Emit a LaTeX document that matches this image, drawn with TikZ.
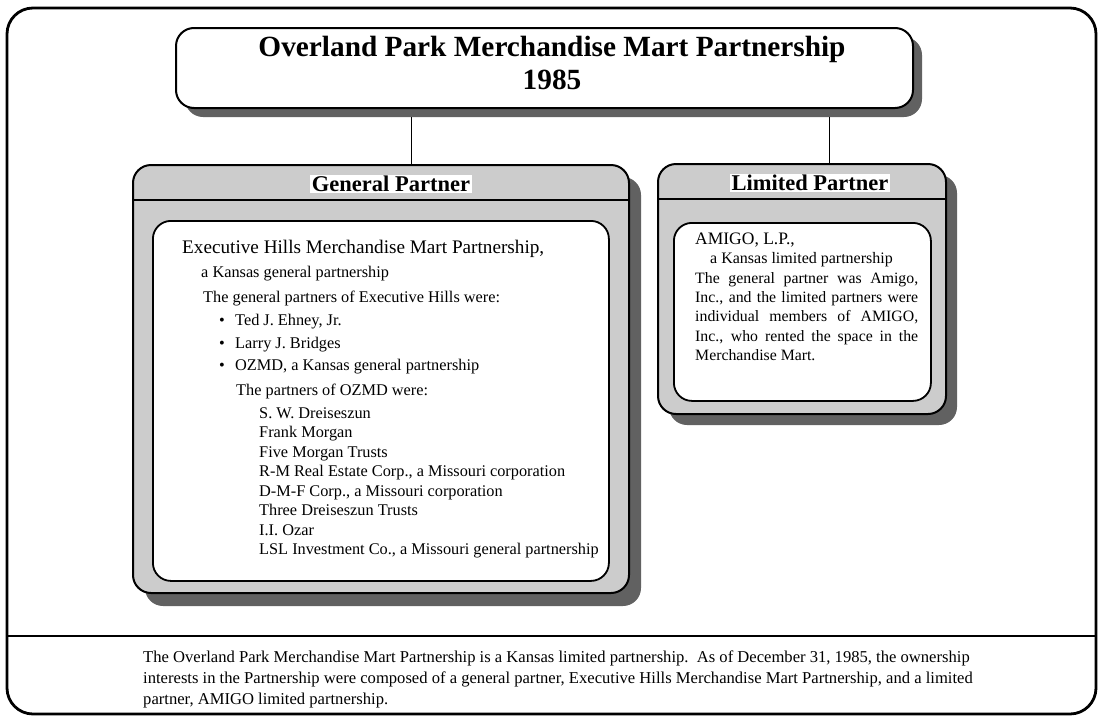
\documentclass[tikz,border=0pt]{standalone}
\usepackage{fontspec}
\setmainfont{Liberation Serif}
\usetikzlibrary{positioning}
\definecolor{stipple}{gray}{0.80}
\definecolor{shade}{gray}{0.38}

\tikzset{
  frame/.style={draw, line width=2.8pt, rounded corners=26pt},
  shadow/.style={fill=shade, rounded corners=18pt},
  box/.style={draw, line width=2pt, fill=white, rounded corners=18pt, anchor=north west},
  panel/.style={box, fill=stipple},
  card/.style={box, line width=1.8pt},
  rule/.style={line width=1.6pt},
  link/.style={line width=1pt},
  headtext/.style={fill=white, inner sep=1.5pt, font=\fontsize{22.5}{25}\selectfont\bfseries},
  body/.style={anchor=base west, inner sep=0pt, font=\fontsize{16.3}{19.5}\selectfont},
}

\begin{document}
\begin{tikzpicture}[x=1pt, y=-1pt]
\useasboundingbox (0,0) rectangle (1099,718);
% outer frame with the note strip at the bottom
\draw[frame] (7,8) rectangle (1096,714);
\draw[line width=2.6pt] (7,636) -- (1096,636);

% partnership title
\fill[shadow] (185,37) rectangle (922,117);
\node[box, minimum width=737pt, minimum height=80pt] (mart) at (175,27) {};
\node[align=center, font=\fontsize{29.3}{33}\selectfont\bfseries] (martname) at (552,63)
  {Overland Park Merchandise Mart Partnership\\1985};

% general partner panel
\fill[shadow] (145,177) rectangle (641,606);
\node[panel, minimum width=496pt, minimum height=428pt] (general) at (132,164) {};
\draw[rule] (132,200) -- (628,200);
\node[headtext] (gphead) at (391,184) {General Partner};
\node[card, minimum width=456pt, minimum height=360pt] (gpcard) at (152,220) {};

% limited partner panel
\fill[shadow] (669,175) rectangle (957,425);
\node[panel, minimum width=288pt, minimum height=250pt] (limited) at (657,163) {};
\draw[rule] (657,199) -- (945,199);
\node[headtext] (lphead) at (810,183) {Limited Partner};
\node[card, minimum width=257pt, minimum height=178pt] (lpcard) at (673,222) {};

% links down from the title
\coordinate (gplink) at (411,117);
\coordinate (lplink) at (829,117);
\draw[link] (gplink) -- (gplink |- general.north);
\draw[link] (lplink) -- (lplink |- limited.north);

% Executive Hills
\node[body, font=\fontsize{19.2}{22}\selectfont] (exec) at (182,253) {Executive Hills Merchandise Mart Partnership,};
\node[body] (execkind) at (201,277) {a Kansas general partnership};
\node[body] (execlist) at (203,302) {The general partners of Executive Hills were:};
\foreach \who [count=\i] in {{Ted J. Ehney, Jr.}, {Larry J. Bridges}, {OZMD, a Kansas general partnership}} {
  \node[body] (dot\i) at (219,303+22.5*\i) {•};
  \node[body] (gp\i) at (235,303+22.5*\i) {\who};
}
\node[body] (ozmd) at (236,395) {The partners of OZMD were:};
\foreach \who [count=\i] in {{S. W. Dreiseszun}, {Frank Morgan}, {Five Morgan Trusts},
    {R-M Real Estate Corp., a Missouri corporation}, {D-M-F Corp., a Missouri corporation},
    {Three Dreiseszun Trusts}, {I.I. Ozar}, {LSL Investment Co., a Missouri general partnership}} {
  \node[body] (oz\i) at (259,398.5+19.5*\i) {\who};
}

% AMIGO
\node[body, font=\fontsize{17.5}{20}\selectfont] (amigo) at (695,244) {AMIGO, L.P.,};
\node[body, font=\fontsize{16}{19}\selectfont] (amigokind) at (710,263) {a Kansas limited partnership};
\node[anchor=north west, inner sep=0pt, text width=223pt, align=justify,
      font=\fontsize{15.8}{19.3}\selectfont] (amigonote) at (695,272)
  {The general partner was Amigo,\linebreak
   Inc., and the limited partners were\linebreak
   individual members of AMIGO,\linebreak
   Inc., who rented the space in the\linebreak
   Merchandise Mart.};

% note under the chart
\node[anchor=north west, inner sep=0pt, align=left, font=\fontsize{16.6}{21}\selectfont] (note) at (143,651)
  {The Overland Park Merchandise Mart Partnership is a Kansas limited partnership.\ \ As of December 31, 1985, the ownership\\
   interests in the Partnership were composed of a general partner, Executive Hills Merchandise Mart Partnership, and a limited\\
   partner, AMIGO limited partnership.};
\end{tikzpicture}
\end{document}
